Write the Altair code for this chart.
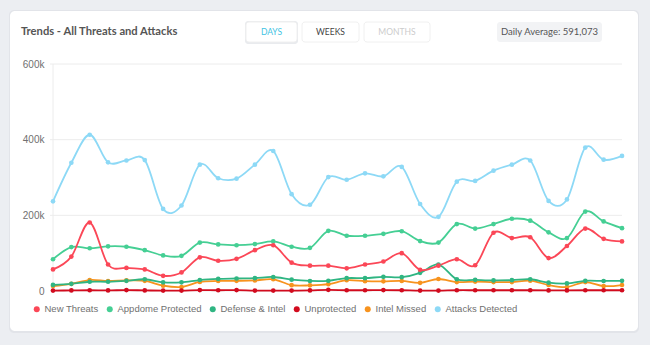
import altair as alt
import pandas as pd

# ---------------- data (values in thousands) ----------------
idx = list(range(32))
series_names = ["New Threats", "Appdome Protected", "Defense & Intel",
                "Unprotected", "Intel Missed", "Attacks Detected"]
series_colors = ["#fb4757", "#45cf94", "#2fb582", "#d20b1e", "#f7931e", "#8dd9f6"]

new_threats = [57, 91, 181, 70, 61, 57, 40, 49, 89, 80, 85, 108, 121, 75, 67, 67,
               60, 70, 78, 100, 56, 67, 84, 68, 154, 140, 142, 87, 119, 165, 138, 131]
appdome = [84, 116, 113, 118, 117, 108, 94, 93, 128, 123, 121, 124, 131, 117, 114, 159,
           146, 146, 151, 158, 132, 128, 177, 165, 177, 191, 186, 155, 140, 210, 184, 166]
defense = [16, 19, 24.5, 24.5, 27, 31, 23, 23, 29, 32, 33, 34, 37, 30, 26.5, 27,
           34, 34, 37.5, 36.5, 48, 70, 31, 29.5, 28, 28.5, 31, 22, 20, 27, 26.5, 27]
unprotected = [1, 1.5, 2, 1.5, 2.5, 1.5, 1, 1, 2.5, 2, 2.5, 1, 1, 1, 1.5, 3,
               2, 2, 2.5, 2, 1, 1, 2, 2, 2, 2, 2, 1.5, 1.5, 2, 2, 2]
intel_missed = [13, 19, 29, 26.5, 28, 27, 14, 10.5, 24, 26.5, 27, 28, 31, 15.5, 15, 18,
                28.5, 26, 25.5, 26.5, 21.5, 31.7, 23.5, 25, 23.7, 23.7, 27.4, 15.8, 10.6, 23.7, 13, 15.8]
attacks = [237, 339, 413, 340, 345, 346, 217, 226, 334, 298, 297, 334, 370, 256, 228, 301,
           294, 311, 303, 328, 230, 196, 289, 291, 318, 334, 345, 238, 242, 379, 347, 357]

y_ticks = [0, 200000, 400000, 600000]
title_text = "Trends - All Threats and Attacks"
buttons = ["DAYS", "WEEKS", "MONTHS"]
daily_avg = "Daily Average: 591,073"

all_series = [new_threats, appdome, defense, unprotected, intel_missed, attacks]
rows = []
for name, vals in reversed(list(zip(series_names, all_series))):
    for i, v in zip(idx, vals):
        rows.append({"idx": i, "value": v * 1000, "series": name})
df = pd.DataFrame(rows)

W, H = 569, 227
PL, PT = 53, 64

FONT = "Liberation Sans"
TFONT = "Lato"

x_enc = alt.X("idx:Q", scale=alt.Scale(domain=[0, 31], nice=False, zero=False), axis=None)
y_axis = alt.Axis(values=y_ticks, labelExpr="datum.value == 0 ? '0' : (datum.value / 1000) + 'k'",
                  grid=False, domain=False, ticks=False, labelPadding=9, labelFontSize=10,
                  labelColor="#707070", labelFont=FONT, title=None, zindex=1)
y_enc = alt.Y("value:Q", scale=alt.Scale(domain=[0, 600000], nice=False), axis=y_axis)
color_enc = alt.Color("series:N",
                      scale=alt.Scale(domain=series_names, range=series_colors),
                      legend=alt.Legend(orient="none", legendX=-21, legendY=240,
                                        direction="horizontal", title=None,
                                        symbolType="circle", symbolSize=36,
                                        symbolStrokeWidth=0, labelFontSize=9.5,
                                        labelColor="#707070", labelFont=FONT,
                                        labelOffset=3, columnPadding=6))


def one(text_df=None):
    return alt.Chart(pd.DataFrame({"t": [text_df if text_df is not None else ""]}))


def px(v):
    return alt.value(v)


# card
card_shadow = one().mark_rect(cornerRadius=5, fill="#e2e4e9").encode(
    x=px(10 - PL - 1), x2=px(638 - PL + 1), y=px(11 - PT - 1), y2=px(331 - PT + 2))
card = one().mark_rect(cornerRadius=5, fill="#ffffff").encode(
    x=px(10 - PL), x2=px(638 - PL), y=px(11 - PT), y2=px(331 - PT))

# grid
grid = alt.Chart(pd.DataFrame({"value": y_ticks})).mark_rule(color="#ececec", strokeWidth=1).encode(
    y=alt.Y("value:Q", axis=y_axis), x=px(-3), x2=px(W))
vline = one().mark_rule(color="#ececec", strokeWidth=1).encode(x=px(0), y=px(0), y2=px(H))

lines = alt.Chart(df).mark_line(interpolate="cardinal", strokeWidth=1.8).encode(
    x=x_enc, y=y_enc, color=color_enc, detail="series:N")
points = alt.Chart(df).mark_circle(size=22, opacity=1).encode(
    x=x_enc, y=y_enc, color=alt.Color("series:N", scale=alt.Scale(domain=series_names, range=series_colors), legend=None))

title = one(title_text).mark_text(align="left", baseline="middle", font=TFONT, fontSize=11.2,
                                  fontWeight="bold", color="#555555").encode(
    x=px(21 - PL), y=px(32 - PT), text="t:N")

btn_x = [(246, 297), (302, 359), (364, 430)]
btn_colors = ["#3fc3e3", "#444444", "#cccccc"]
btn_layers = []
for (x1, x2), lab, col, i in zip(btn_x, buttons, btn_colors, range(3)):
    if i == 0:
        btn_layers.append(one().mark_rect(cornerRadius=3, fill="#e9ebee").encode(
            x=px(x1 - PL - 1), x2=px(x2 - PL + 1), y=px(22 - PT - 1), y2=px(42 - PT + 2)))
    btn_layers.append(one().mark_rect(cornerRadius=3, fill="#ffffff",
                                      stroke="#f0f0f0", strokeWidth=1).encode(
        x=px(x1 - PL), x2=px(x2 - PL), y=px(22 - PT), y2=px(42 - PT)))
    btn_layers.append(one(lab).mark_text(align="center", baseline="middle", font=TFONT,
                                         fontSize=8.5, color=col).encode(
        x=px((x1 + x2) / 2 - PL), y=px(32 - PT), text="t:N"))

avg_box = one().mark_rect(cornerRadius=3, fill="#f2f3f5").encode(
    x=px(497 - PL), x2=px(602 - PL), y=px(22 - PT), y2=px(42 - PT))
avg_text = one(daily_avg).mark_text(align="center", baseline="middle", font=TFONT,
                                    fontSize=9.5, color="#555555").encode(
    x=px(549.5 - PL), y=px(32 - PT), text="t:N")

chart = alt.layer(card_shadow, card, grid, vline, lines, points, title,
                  *btn_layers, avg_box, avg_text).properties(
    width=W, height=H,
    autosize=alt.AutoSizeParams(type="none"),
    padding={"left": PL, "top": PT, "right": 650 - PL - W, "bottom": 345 - PT - H},
    background="#eceef2",
).configure_view(stroke=None)

chart.save("out.html", embed_options={"renderer": "svg", "actions": False})
